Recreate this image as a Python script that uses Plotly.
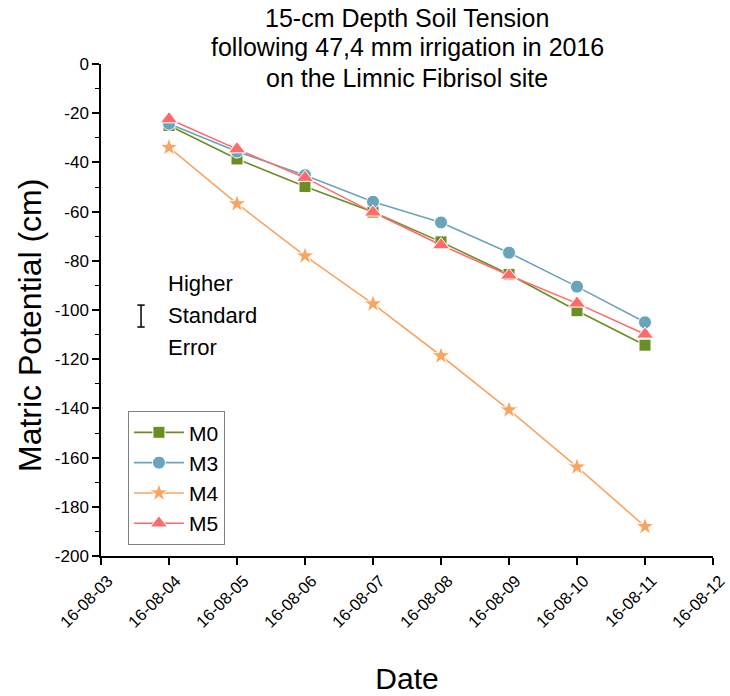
import plotly.graph_objects as go

# Measurement dates (Aug 2016) and matric potential per treatment (cm)
dates = ["2016-08-04", "2016-08-05", "2016-08-06", "2016-08-07",
         "2016-08-08", "2016-08-09", "2016-08-10", "2016-08-11"]
m0 = [-25.0, -38.6, -49.8, -60.2, -72.3, -85.5, -100.3, -114.3]
m3 = [-24.3, -35.6, -45.2, -56.0, -64.4, -76.7, -90.5, -105.0]
m4 = [-33.9, -56.8, -78.0, -97.5, -118.6, -140.6, -163.8, -188.0]
m5 = [-22.4, -34.6, -46.2, -60.3, -73.6, -85.9, -97.3, -109.9]

series_names = ["M0", "M3", "M4", "M5"]
series_values = [m0, m3, m4, m5]
colors = ["#6B8E23", "#6AA4BA", "#F9A560", "#FF6A6A"]
symbols = ["square", "circle", "star", "triangle-up"]
sizes = [12, 13, 14, 15]

# y tick labels written with a plain hyphen
y_ticks = [0, -20, -40, -60, -80, -100, -120, -140, -160, -180, -200]
y_labels = [str(v) for v in y_ticks]

title_lines = ["15-cm Depth Soil Tension",
               "following 47,4 mm irrigation in 2016",
               "on the Limnic Fibrisol site"]

FONT = "Liberation Sans, Arial, sans-serif"

fig = go.Figure()
for name, vals, col, sym, sz in zip(series_names, series_values, colors, symbols, sizes):
    fig.add_trace(go.Scatter(
        x=dates, y=vals, name=name, mode="lines+markers",
        line=dict(color=col, width=1.6),
        marker=dict(symbol=sym, size=sz, color=col,
                    line=dict(color="white", width=1)),
    ))

fig.update_layout(
    width=730, height=696,
    margin=dict(l=101, r=17, t=64, b=140, autoexpand=False),
    paper_bgcolor="white", plot_bgcolor="white",
    font=dict(family=FONT, color="black"),
    showlegend=True,
    legend=dict(
        x=0.044, y=0.022, xanchor="left", yanchor="bottom",
        bordercolor="#808080", borderwidth=1, bgcolor="white",
        font=dict(family=FONT, size=21, color="black"),
        itemwidth=50, tracegroupgap=0,
    ),
)

# three-line chart title, centred over the plot area
for txt, ty in zip(title_lines, [1.0935, 1.0346, 0.9715]):
    fig.add_annotation(
        text=txt, xref="paper", yref="paper", x=0.5, y=ty,
        xanchor="center", yanchor="middle", showarrow=False,
        font=dict(family=FONT, size=25, color="black"),
    )

# y-axis title
fig.add_annotation(
    text="Matric Potential (cm)", xref="paper", yref="paper",
    x=-0.116, y=0.4675, xanchor="center", yanchor="middle",
    textangle=-90, showarrow=False,
    font=dict(family=FONT, size=32, color="black"),
)

fig.update_xaxes(
    type="date", automargin=False,
    range=["2016-08-03", "2016-08-12"],
    dtick=86400000, tick0="2016-08-03",
    tickformat="%y-%m-%d", tickangle=-45,
    ticks="outside", ticklen=7, tickwidth=1.5, tickcolor="black",
    ticklabelshift=7, ticklabeloverflow="allow",
    showline=True, linecolor="black", linewidth=1.5,
    showgrid=False, zeroline=False,
    tickfont=dict(family=FONT, size=16.5, color="black"),
    title=dict(text="Date", font=dict(family=FONT, size=30, color="black"), standoff=38),
)

fig.update_yaxes(
    automargin=False,
    range=[-200, 0], tickvals=y_ticks, ticktext=y_labels,
    ticks="outside", ticklen=7, tickwidth=1.5, tickcolor="black",
    minor=dict(dtick=10, ticks="outside", ticklen=4, tickwidth=1.2, tickcolor="black"),
    showline=True, linecolor="black", linewidth=1.5,
    showgrid=False, zeroline=False,
    tickfont=dict(family=FONT, size=17, color="black"),
)

# "Higher Standard Error" key: I-beam glyph and three text lines
bx, y_lo, y_hi, cap = 0.0654, 0.4654, 0.5100, 0.006
for x0, y0, x1, y1 in [(bx, y_lo, bx, y_hi),
                       (bx - cap, y_lo, bx + cap, y_lo),
                       (bx - cap, y_hi, bx + cap, y_hi)]:
    fig.add_shape(type="line", xref="paper", yref="paper",
                  x0=x0, y0=y0, x1=x1, y1=y1,
                  line=dict(color="black", width=1.5))

for i, word in enumerate(["Higher", "Standard", "Error"]):
    fig.add_annotation(
        text=word, xref="paper", yref="paper",
        x=0.106, y=0.553 - i * 0.065, xanchor="left", yanchor="middle",
        showarrow=False, font=dict(family=FONT, size=22, color="black"),
    )

fig.write_html("out.html")
